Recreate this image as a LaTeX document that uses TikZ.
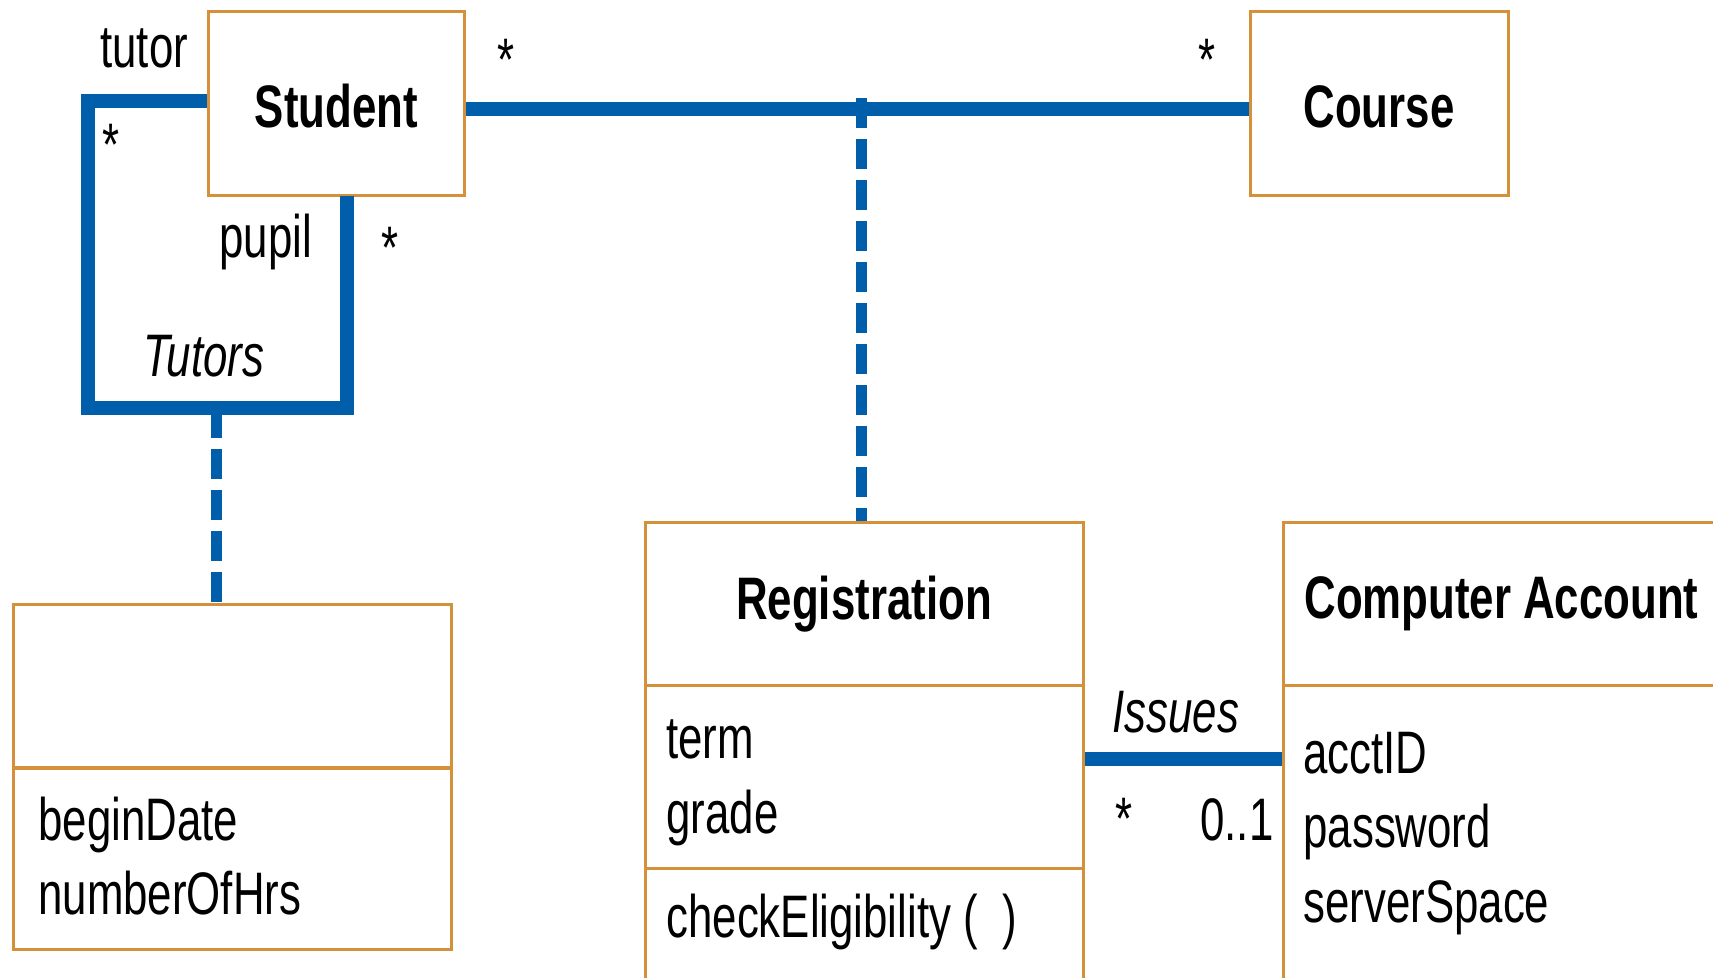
\documentclass[tikz,border=0pt]{standalone}
\usepackage{fontspec}
\setmainfont{Liberation Sans}[FakeStretch=0.73]
\usetikzlibrary{positioning}
\definecolor{umlblue}{RGB}{0,94,170}
\definecolor{umlorange}{RGB}{212,145,58}

\begin{document}
\begin{tikzpicture}[x=0.5pt, y=-0.5pt]
    \tikzstyle{every node}=[font=\fontsize{30}{37.5}\selectfont]
    \tikzstyle{cls}=[rectangle, draw=umlorange, line width=1.5pt, inner sep=0pt]
    \tikzstyle{top}=[cls, minimum height=92pt, text height=24pt, text depth=0pt]
    \tikzstyle{txt}=[anchor=base west, inner sep=0pt]
    \tikzstyle{mult}=[anchor=base, inner sep=0pt]
    \tikzstyle{assoc}=[draw=umlblue, line width=7pt]
    \tikzstyle{dep}=[draw=umlblue, line width=5.5pt, dash pattern=on 15pt off 5.5pt]

    \useasboundingbox (0,0) rectangle (1713,978);
    \clip (0,0) rectangle (1713,978);

    \node[top, minimum width=128pt]                           (student)  at (336.5,103.5) {\bfseries Student};
    \node[top, minimum width=129pt]                           (course)   at (1379,103.5)  {\bfseries Course};

    \node[cls, minimum width=219pt, minimum height=81.75pt]   (tutname)  at (232.5,686)   {};
    \node[cls, minimum width=219pt, minimum height=90.75pt]   (tutattr)  at (232.5,858.75) {};

    \node[cls, minimum width=219pt, minimum height=81.25pt]   (regname)  at (864,603.75)  {\bfseries Registration};
    \node[cls, minimum width=219pt, minimum height=91.5pt]    (regattr)  at (864,776.5)   {};
    \node[cls, minimum width=219pt, minimum height=71pt]      (regops)   at (864,939)     {};

    \node[cls, minimum width=218.5pt, minimum height=81.25pt] (acctname) at (1501.5,603.75) {\bfseries Computer Account};
    \node[cls, minimum width=218.5pt, minimum height=162.5pt] (acctattr) at (1501.5,847.5)  {};

    \node[txt] (begin)  at (38,840)   {beginDate};
    \node[txt] (hrs)    at (38,914)   {numberOfHrs};
    \node[txt] (term)   at (666,758)  {term};
    \node[txt] (grade)  at (666,833)  {grade};
    \node[txt] (check)  at (666,937)  {checkEligibility (\ \ )};
    \node[txt] (acctid) at (1303,773) {acctID};
    \node[txt] (pwd)    at (1303,847) {password};
    \node[txt] (space)  at (1303,922) {serverSpace};

    \node[txt] (tutor)  at (100,68)   {tutor};
    \node[txt] (pupil)  at (219,258)  {pupil};
    \node[txt] (tutors) at (143,377)  {\itshape Tutors};
    \node[txt] (issues) at (1112,732) {\itshape Issues};
    \node[txt] (zeroone) at (1200,840) {0..1};

    \node[mult] (m1) at (111,166)  {*};
    \node[mult] (m2) at (390,269)  {*};
    \node[mult] (m3) at (506,81)   {*};
    \node[mult] (m4) at (1207,81)  {*};
    \node[mult] (m5) at (1124,839) {*};

    \coordinate (loopbl) at (88,408);
    \coordinate (looptr) at (347,196);
    \coordinate (loopmid) at (216,408);
    \coordinate (regmid) at (861,98);
    \path (regattr.east) ++(0,-17.5) coordinate (issl);

    \path   ([yshift=-3pt]student.east) edge[assoc] ([yshift=-3pt]course.west);
    \draw[assoc] ([yshift=1pt]student.west) -| (loopbl) -| (looptr);
    \path   (loopmid)   edge[dep]   (loopmid |- tutname.north);
    \path   (regmid)    edge[dep]   (regmid |- regname.north);
    \path   (issl)      edge[assoc] (issl -| acctattr.west);
\end{tikzpicture}
\end{document}
